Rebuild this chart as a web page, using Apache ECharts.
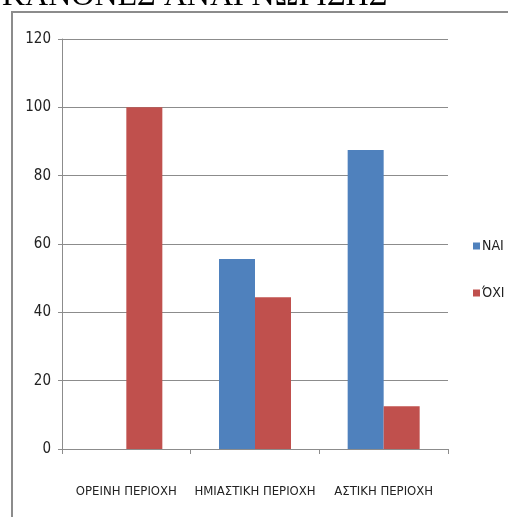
<!DOCTYPE html>
<html>
<head>
<meta charset="utf-8">
<script src="https://cdn.jsdelivr.net/npm/echarts@6/dist/echarts.min.js"></script>
<style>
  html, body { margin: 0; padding: 0; background: #fff; }
  #chart { width: 508px; height: 517px; }
</style>
</head>
<body>
<div id="chart"></div>
<script>
// Categories and values
var categories = ['ΟΡΕΙΝΗ ΠΕΡΙΟΧΗ', 'ΗΜΙΑΣΤΙΚΗ ΠΕΡΙΟΧΗ', 'ΑΣΤΙΚΗ ΠΕΡΙΟΧΗ'];
var naiValues = [0, 55.6, 87.5];
var oxiValues = [100, 44.4, 12.5];
var seriesNames = ['ΝΑΙ', 'ΌΧΙ'];
var pageTitle = 'ΚΑΝΟΝΕΣ ΑΝΑΓΝΩΡΙΣΗΣ';

var chart = echarts.init(document.getElementById('chart'));
// narrow face, closest to the condensed labels of the original
var labelFont = "'DejaVu Sans Condensed', sans-serif";

var option = {
  backgroundColor: '#fff',
  animation: false,
  graphic: [
    {
      // page heading, cut off by the top edge in the original
      type: 'text',
      left: 2,
      top: -19,
      style: {
        text: pageTitle,
        font: '32px "Liberation Serif", serif',
        fill: '#000'
      }
    },
    {
      type: 'rect',
      shape: { x: 12, y: 12, width: 600, height: 600 },
      style: { fill: 'none', stroke: '#8c8c8c', lineWidth: 2 }
    }
  ],
  legend: {
    orient: 'vertical',
    left: 468,
    top: 234,
    itemWidth: 7,
    itemHeight: 7,
    itemGap: 33,
    icon: 'rect',
    textStyle: { fontFamily: labelFont, fontSize: 14, color: '#222', padding: [0, 0, 0, -3] },
    data: seriesNames
  },
  grid: { left: 62, right: 60, top: 39, bottom: 68 },
  xAxis: {
    type: 'category',
    data: categories,
    axisLine: { lineStyle: { color: '#8c8c8c' } },
    axisTick: { show: true, length: 5, lineStyle: { color: '#8c8c8c' } },
    axisLabel: { interval: 0, margin: 36, fontFamily: labelFont, fontSize: 13, color: '#222' }
  },
  yAxis: {
    type: 'value',
    min: 0,
    max: 120,
    interval: 20,
    axisLine: { show: true, lineStyle: { color: '#8c8c8c' } },
    axisTick: { show: true, length: 4, lineStyle: { color: '#8c8c8c' } },
    splitLine: { lineStyle: { color: '#8c8c8c' } },
    axisLabel: { margin: 11, fontFamily: labelFont, fontSize: 15, color: '#222' }
  },
  series: [
    {
      name: seriesNames[0],
      type: 'bar',
      data: naiValues,
      barWidth: 36,
      barGap: '0%',
      itemStyle: { color: '#4F81BD' }
    },
    {
      name: seriesNames[1],
      type: 'bar',
      data: oxiValues,
      barWidth: 36,
      barGap: '0%',
      itemStyle: { color: '#C0504D' }
    }
  ]
};

chart.setOption(option);
</script>
</body>
</html>
